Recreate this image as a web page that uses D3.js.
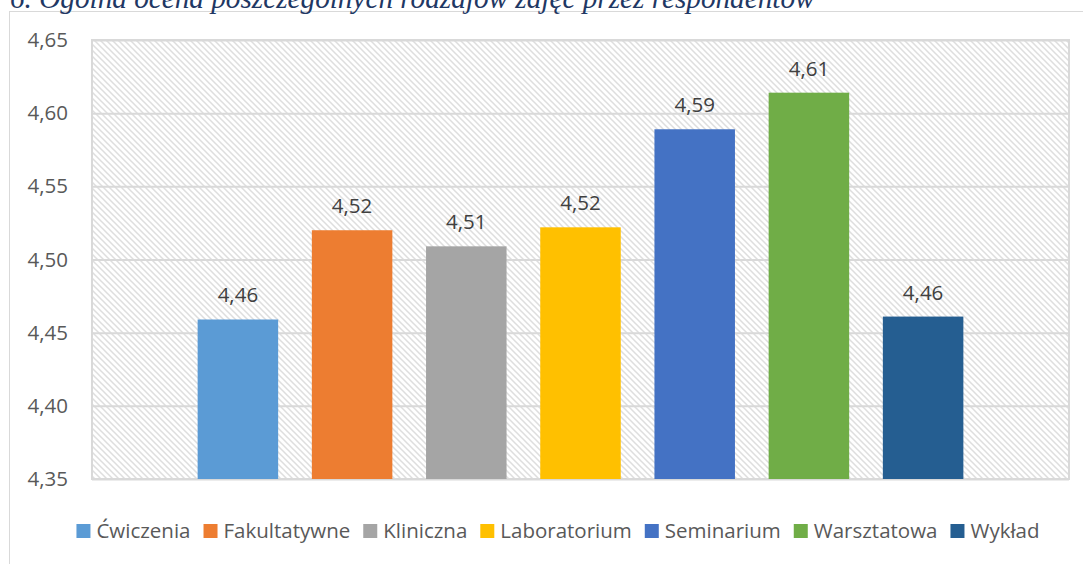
<!DOCTYPE html>
<html>
<head>
  <meta charset="utf-8">
  <style>
    body { margin: 0; background: #fff; }
    svg { display: block; }
    text { font-family: "Open Sans", sans-serif; }
  </style>
</head>
<body>
  <script src="https://d3js.org/d3.v7.min.js"></script>
  <script>
    // data
    const series = ["Ćwiczenia", "Fakultatywne", "Kliniczna", "Laboratorium", "Seminarium", "Warsztatowa", "Wykład"];
    const values = [4.459, 4.520, 4.509, 4.522, 4.589, 4.614, 4.461];
    const colors = ["#5B9BD5", "#ED7D31", "#A5A5A5", "#FFC000", "#4472C4", "#70AD47", "#255E91"];
    const yTicks = [4.35, 4.40, 4.45, 4.50, 4.55, 4.60, 4.65];
    const title = "6. Ogólna ocena poszczególnych rodzajów zajęć przez respondentów";

    const w = 1083;
    const h = 564;
    const plot = { left: 92, top: 40, right: 1069, bottom: 479 };
    const fs = "20.5px";

    const fmt = (v) => d3.format(".2f")(v).replace(".", ",");

    const svg = d3.select("body")
      .append("svg")
      .attr("width", w)
      .attr("height", h);

    // hatch pattern for the plot area
    const pat = svg.append("defs").append("pattern")
      .attr("id", "hatch")
      .attr("patternUnits", "userSpaceOnUse")
      .attr("width", 6)
      .attr("height", 6);
    pat.append("rect").attr("width", 6).attr("height", 6).attr("fill", "#fff");
    pat.append("path")
      .attr("d", "M-1,-1 L7,7 M-4,2 L2,8 M2,-4 L8,2")
      .attr("stroke", "#DEDEDE")
      .attr("stroke-width", 1.5);

    // outer chart border
    svg.append("rect")
      .attr("x", 9.5)
      .attr("y", 11.5)
      .attr("width", w + 10)
      .attr("height", h + 10)
      .attr("fill", "none")
      .attr("stroke", "#D9D9D9")
      .attr("stroke-width", 1);

    // title, clipped at the top like the source
    const t = svg.append("text")
      .attr("x", 10)
      .attr("y", 8)
      .attr("fill", "#1F3864")
      .style("font-family", "'Liberation Serif', serif")
      .style("font-style", "italic")
      .style("font-size", "24px")
      .text(title);
    const tl = t.node().getComputedTextLength();
    t.style("font-size", (24 * 805 / tl) + "px");

    const x = d3.scaleBand()
      .domain(series)
      .range([plot.left, plot.right])
      .paddingInner(0.295)
      .paddingOuter(0.925);

    const y = d3.scaleLinear()
      .domain([4.35, 4.65])
      .range([plot.bottom, plot.top]);

    svg.append("rect")
      .attr("x", plot.left)
      .attr("y", plot.top)
      .attr("width", plot.right - plot.left)
      .attr("height", plot.bottom - plot.top)
      .attr("fill", "url(#hatch)");

    // gridlines + y labels
    const yAxis = d3.axisLeft(y)
      .tickValues(yTicks)
      .tickFormat(fmt)
      .tickSize(-(plot.right - plot.left))
      .tickPadding(24);

    const ga = svg.append("g")
      .attr("transform", "translate(" + plot.left + ",0)")
      .call(yAxis);
    ga.select(".domain").remove();
    ga.selectAll("line").attr("stroke", "#D9D9D9").attr("stroke-width", 2);
    ga.selectAll("text")
      .attr("fill", "#595959")
      .style("font-family", "'Open Sans', sans-serif")
      .style("font-size", fs);

    // plot border
    svg.append("rect")
      .attr("x", plot.left)
      .attr("y", plot.top)
      .attr("width", plot.right - plot.left)
      .attr("height", plot.bottom - plot.top)
      .attr("fill", "none")
      .attr("stroke", "#D9D9D9")
      .attr("stroke-width", 2);

    // bars
    svg.selectAll("rect.bar")
      .data(series)
      .enter()
      .append("rect")
      .attr("class", "bar")
      .attr("x", (d) => x(d))
      .attr("y", (d, i) => y(values[i]))
      .attr("width", x.bandwidth())
      .attr("height", (d, i) => plot.bottom - y(values[i]))
      .attr("fill", (d, i) => colors[i]);

    svg.selectAll("text.lbl")
      .data(series)
      .enter()
      .append("text")
      .attr("class", "lbl")
      .attr("x", (d) => x(d) + x.bandwidth() / 2)
      .attr("y", (d, i) => y(values[i]) - 17)
      .attr("text-anchor", "middle")
      .attr("fill", "#404040")
      .style("font-size", fs)
      .text((d, i) => fmt(values[i]));

    // legend
    const lg = svg.append("g");
    const items = lg.selectAll("g")
      .data(series)
      .enter()
      .append("g");
    items.append("rect")
      .attr("width", 14)
      .attr("height", 14)
      .attr("y", -14)
      .attr("fill", (d, i) => colors[i]);
    items.append("text")
      .attr("x", 20)
      .attr("fill", "#595959")
      .style("font-size", fs)
      .text((d) => d);

    let pos = 0;
    items.each(function () {
      d3.select(this).attr("transform", "translate(" + pos + ",0)");
      pos += 20 + this.querySelector("text").getComputedTextLength() + 13;
    });
    pos -= 13;
    lg.attr("transform", "translate(" + (558 - pos / 2) + ",538)");
  </script>
</body>
</html>
